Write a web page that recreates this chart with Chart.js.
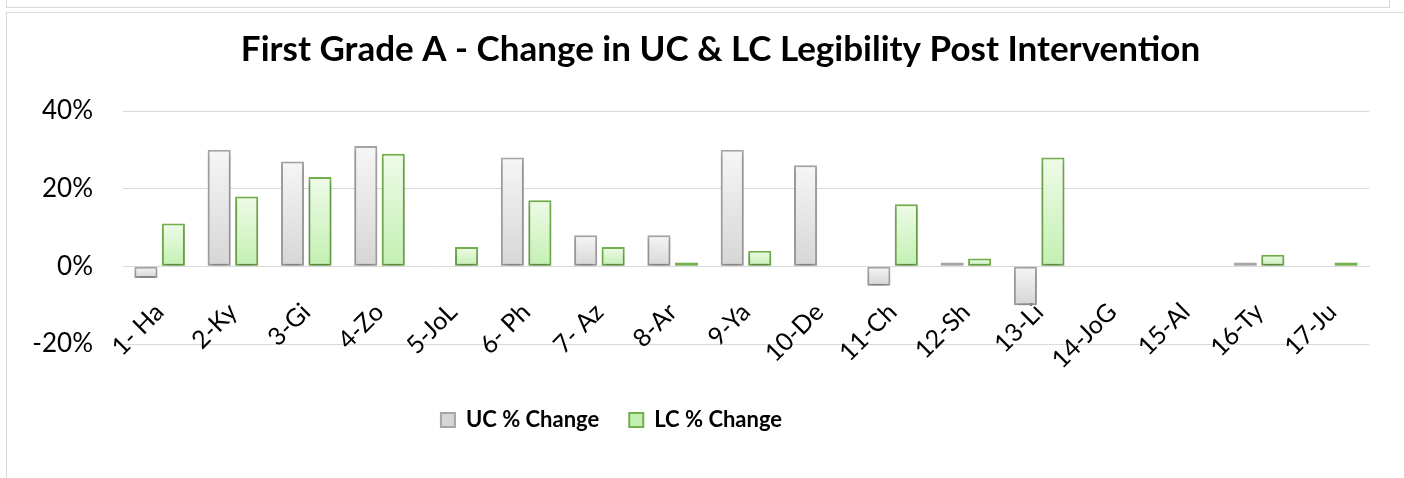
<!DOCTYPE html>
<html>
<head>
<meta charset="utf-8">
<script src="https://cdn.jsdelivr.net/npm/chart.js@4"></script>
<style>
  html, body { margin: 0; padding: 0; background: #fff; overflow: hidden; width: 1404px; height: 478px; }
  #topBox { position: absolute; left: 6px; top: -10px; width: 1382px; height: 16px; border: 1.5px solid #d9d9d9; }
  #chartBox { position: absolute; left: 6px; top: 12px; width: 1500px; height: 520px; border: 1.5px solid #d9d9d9; }
  #wrap { position: absolute; left: 8px; top: 14px; width: 1426px; height: 464px; }
</style>
</head>
<body>
<div id="topBox"></div>
<div id="chartBox"></div>
<div id="wrap"><canvas id="chart"></canvas></div>
<script>
// data (percent change)
const students = ['1- Ha', '2-Ky', '3-Gi', '4-Zo', '5-JoL', '6- Ph', '7- Az', '8-Ar', '9-Ya',
                  '10-De', '11-Ch', '12-Sh', '13-Li', '14-JoG', '15-Al', '16-Ty', '17-Ju'];
const ucChange = [-3, 30, 27, 31, 0, 28, 8, 8, 30, 26, -5, 1, -10, 0, 0, 1, 0];
const lcChange = [11, 18, 23, 29, 5, 17, 5, 1, 4, 0, 16, 2, 28, 0, 0, 3, 1];
const seriesNames = ['UC % Change', 'LC % Change'];
const yTicks = { min: -20, max: 40, step: 20 };

const FONT = 'Lato, "Open Sans", sans-serif';

// vertical gradient per bar, like the Excel fill
function barFill(top, bottom, flat) {
    return ctx => {
        const chart = ctx.chart;
        if (ctx.type !== 'data' || !chart.chartArea) return flat;
        const y = chart.scales.y;
        const v = ctx.raw;
        const y1 = y.getPixelForValue(Math.max(v, 0));
        const y2 = y.getPixelForValue(Math.min(v, 0));
        if (Math.abs(y2 - y1) < 1) return flat;
        const g = chart.ctx.createLinearGradient(0, y1, 0, y2);
        g.addColorStop(0, top);
        g.addColorStop(1, bottom);
        return g;
    };
}

// soft drop shadow under the bars
const barShadow = {
    id: 'barShadow',
    beforeDatasetsDraw(chart) {
        const c = chart.ctx;
        c.save();
        c.shadowColor = 'rgba(0,0,0,0.28)';
        c.shadowBlur = 5;
        c.shadowOffsetY = 3;
    },
    afterDatasetsDraw(chart) {
        chart.ctx.restore();
    }
};

// title is centred on the whole (cropped) chart box, legend sits left of centre and lower
const blockShift = {
    id: 'blockShift',
    afterLayout(chart) {
        const t = chart.titleBlock;
        t.left += 22; t.right += 22;
        const lg = chart.legend;
        lg.left -= 87; lg.right -= 87;
        lg.top += 35; lg.bottom += 35;
    }
};

new Chart(document.getElementById('chart'), {
    type: 'bar',
    data: {
        labels: students,
        datasets: [
            {
                label: seriesNames[0],
                data: ucChange,
                backgroundColor: barFill('#f6f6f6', '#d6d6d6', '#e6e6e6'),
                borderColor: '#a6a6a6',
                borderWidth: 2,
                borderSkipped: false,
                categoryPercentage: 0.75,
                barPercentage: 0.84
            },
            {
                label: seriesNames[1],
                data: lcChange,
                backgroundColor: barFill('#eefbe8', '#c3f0b2', '#d8f5cd'),
                borderColor: '#72b04b',
                borderWidth: 2,
                borderSkipped: false,
                categoryPercentage: 0.75,
                barPercentage: 0.84
            }
        ]
    },
    options: {
        responsive: true,
        maintainAspectRatio: false,
        animation: false,
        layout: { padding: { left: 20, right: 65, top: 0, bottom: 72 } },
        plugins: {
            title: {
                display: true,
                text: 'First Grade A - Change in UC & LC Legibility Post Intervention',
                color: '#000',
                font: { family: FONT, size: 35, weight: 'bold' },
                padding: { top: 15, bottom: 40 }
            },
            legend: {
                position: 'bottom',
                labels: {
                    boxWidth: 14,
                    boxHeight: 14,
                    padding: 30,
                    color: '#000',
                    font: { family: FONT, size: 22, weight: 'bold' }
                }
            },
            tooltip: { enabled: false }
        },
        scales: {
            x: {
                position: { y: 0 },
                grid: { display: false, drawTicks: false },
                border: { color: '#d9d9d9' },
                ticks: {
                    color: '#000',
                    font: { family: FONT, size: 25 },
                    minRotation: 45,
                    maxRotation: 45,
                    autoSkip: false,
                    padding: 31
                },
                afterFit(scale) {
                    scale.paddingLeft = 0;
                    scale.paddingRight = 0;
                }
            },
            y: {
                min: yTicks.min,
                max: yTicks.max,
                ticks: {
                    stepSize: yTicks.step,
                    callback: v => v + '%',
                    color: '#000',
                    font: { family: FONT, size: 26 },
                    padding: 30
                },
                grid: { color: '#d9d9d9', drawTicks: false },
                border: { display: false },
                afterFit(scale) {
                    scale.width = 95;
                }
            }
        }
    },
    plugins: [barShadow, blockShift]
});
</script>
</body>
</html>
